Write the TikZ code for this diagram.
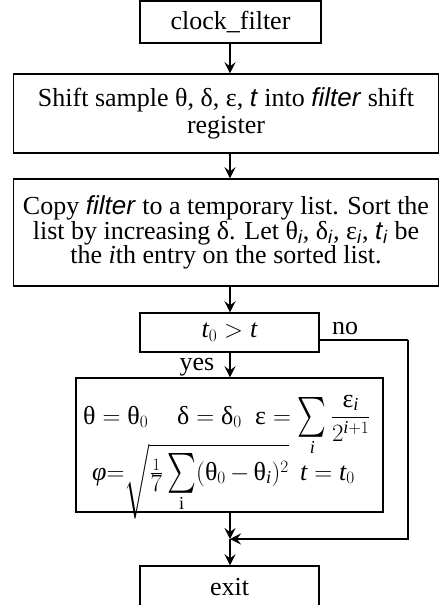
\documentclass[tikz,border=0pt]{standalone}
\usepackage{exscale}
\usepackage{amsmath}
\usepackage{graphicx}
\usepackage{fontspec}
\setmainfont{Liberation Serif}
\setsansfont{Liberation Sans}
\usetikzlibrary{arrows.meta}
\newcommand{\si}[1]{\textsf{\itshape #1}}
\newcommand{\gr}[1]{\text{\normalfont #1}}
\newcommand{\mi}[1]{\text{\normalfont\itshape #1}}
\newcommand{\rsum}[1]{\mathop{\vcenter{\hbox{\scalebox{1.1}[1.6]{$\textstyle\sum$}}}}\limits_{#1}}
\newcommand{\boxfont}{\fontsize{26}{23.5}\selectfont\lineskiplimit=0pt\lineskip=0.5pt\relax}
\begin{document}
\begin{tikzpicture}[x=1pt,y=1pt,
  box/.style={draw, line width=1.4pt, inner sep=0pt, align=center, font=\boxfont},
  lbl/.style={inner sep=0pt, font=\fontsize{26}{26}\selectfont},
  fm/.style={inner sep=0pt, anchor=base west, font=\fontsize{26}{26}\selectfont},
  arr/.style={line width=2.2pt, -{Stealth[length=11pt,width=11pt,inset=4pt]}},
  plain/.style={line width=1.6pt}]
\useasboundingbox (0,0) rectangle (439,-605);
\coordinate (ax) at (230,0);
\node[box, minimum width=181pt, minimum height=42pt] (clock) at (230.5,-22) {clock\_filter};
\node[box, minimum width=425pt, minimum height=79pt] (shift) at (226,-113.5)
  {Shift sample θ, δ, ε, \si{t} into \si{filter} shift\\[3pt]register};
\node[box, minimum width=425pt, minimum height=107pt] (copy) at (226,-232.5)
  {Copy \si{filter} to a temporary list. Sort the\\list by increasing δ. Let θ\textsubscript{\si{i}}, δ\textsubscript{\si{i}}, ε\textsubscript{\si{i}}, \si{t}\textsubscript{\si{i}} be\\the \textit{i}th entry on the sorted list.};
\node[box, minimum width=179pt, minimum height=39pt] (cond) at (229.5,-332.5) {$\mi{t}_{0} > \mi{t}$};
\node[box, minimum width=307pt, minimum height=134pt] (form) at (229.5,-445) {};
\node[fm] (f1) at (83,-424) {$\gr{θ} = \gr{θ}_{0}$};
\node[fm] (f2) at (177,-424) {$\gr{δ} = \gr{δ}_{0}$};
\node[fm] (f3) at (255,-424) {$\gr{ε} = \rsum{\mi{i}} \dfrac{\gr{ε}_{\mi{i}}}{2^{\mi{i}+1}}$};
\node[fm] (f4) at (92,-480) {$\mi{φ}{=}\sqrt{\frac{1}{\textstyle 7}\rsum{\mathrm{i}}(\gr{θ}_{0}{\,-\,}\gr{θ}_{\mi{i}})^{2}}$};
\node[fm] (f5) at (300,-480) {$\mi{t} = \mi{t}_{0}$};
\node[box, minimum width=179pt, text height=29pt, text depth=30pt, anchor=base] (exit) at (229.5,-595) {exit};
\node[lbl] (yes) at (197,-367) {yes};
\node[lbl] (no) at (345,-328) {no};
\coordinate (J) at (230,-539);
\coordinate (nR) at (408,-340);
\draw[arr] (clock.south -| ax) -- (shift.north -| ax);
\draw[arr] (shift.south -| ax) -- (copy.north -| ax);
\draw[arr] (copy.south -| ax) -- (cond.north -| ax);
\draw[arr] (cond.south -| ax) -- (form.north -| ax);
\draw[arr] (form.south -| ax) -- (J);
\draw[arr] (J) -- (exit.north -| ax);
\draw[plain] (cond.east |- nR) -- (nR);
\draw[arr] (nR) |- (J);
\end{tikzpicture}
\end{document}
